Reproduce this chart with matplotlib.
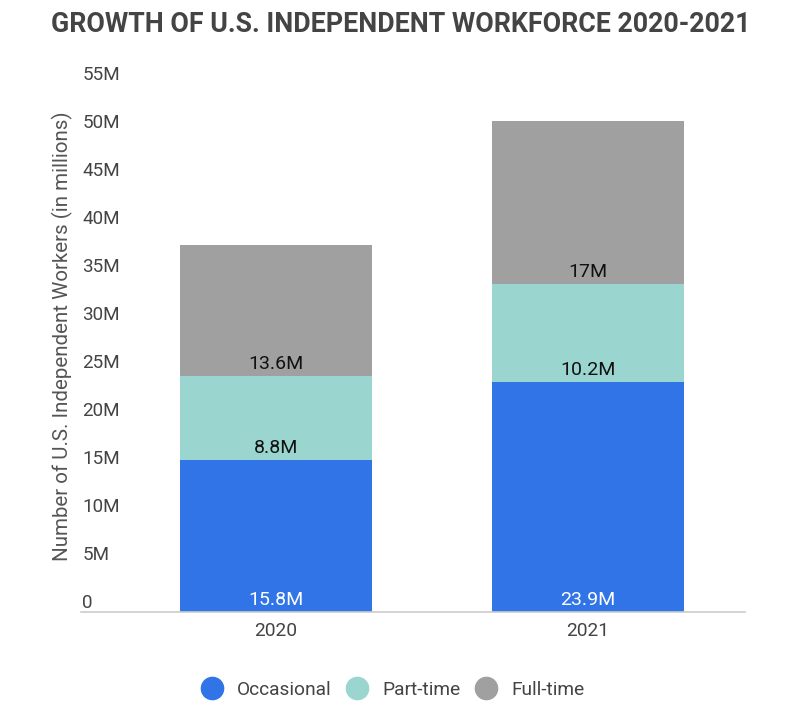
import matplotlib
matplotlib.use("Agg")
import matplotlib.pyplot as plt
from matplotlib.lines import Line2D
from matplotlib.transforms import ScaledTranslation
import numpy as np

plt.rcParams['font.family'] = ['Roboto', 'DejaVu Sans']

years = ["2020", "2021"]
series_names = ["Occasional", "Part-time", "Full-time"]
occasional = [15.8, 23.9]
part_time = [8.8, 10.2]
full_time = [13.6, 17.0]
value_labels = [["15.8M", "23.9M"], ["8.8M", "10.2M"], ["13.6M", "17M"]]
y_ticks = [0, 5, 10, 15, 20, 25, 30, 35, 40, 45, 50, 55]
y_tick_labels = ["0", "5M", "10M", "15M", "20M", "25M", "30M", "35M", "40M", "45M", "50M", "55M"]

colors = ["#3174E8", "#9AD5D0", "#A0A0A0"]
label_colors = ["white", "#111111", "#111111"]

W, H = 800, 717
fig = plt.figure(figsize=(W / 100, H / 100), dpi=100)
ax_left, ax_right, ax_bottom, ax_top = 81, 745, 612, 83.5
ax = fig.add_axes([ax_left / W, 1 - ax_bottom / H, (ax_right - ax_left) / W, (ax_bottom - ax_top) / H])

x = np.arange(len(years))
width = 0.615
series = [occasional, part_time, full_time]
bottom = np.zeros(len(years))
for i, vals in enumerate(series):
    vals = np.array(vals)
    ax.bar(x, vals, width, bottom=bottom, color=colors[i], label=series_names[i], zorder=2)
    for j in range(len(years)):
        ax.annotate(value_labels[i][j], (x[j], bottom[j]), xytext=(0, 8.6), textcoords="offset points",
                    ha="center", va="center", fontsize=14, color=label_colors[i], zorder=3)
    bottom = bottom + vals

ax.set_xlim(-0.625, 1.503)
ax.set_ylim(0, 55)
ax.set_yticks(y_ticks)
ax.set_yticklabels(y_tick_labels)
ax.set_xticks(x)
ax.set_xticklabels(years)

for s in ["top", "right", "left"]:
    ax.spines[s].set_visible(False)
ax.spines["bottom"].set_color("#cccccc")
ax.spines["bottom"].set_linewidth(1.2)

ax.tick_params(axis="y", length=0, pad=-1, labelsize=13.6, labelcolor="#444444")
ax.tick_params(axis="x", length=0, pad=7, labelsize=13.8, labelcolor="#444444")
off = ScaledTranslation(0, 0.11, fig.dpi_scale_trans)
for lab in ax.get_yticklabels():
    lab.set_horizontalalignment("left")
    lab.set_transform(lab.get_transform() + off)

fig.text(62 / W, 1 - 336 / H, "Number of U.S. Independent Workers (in millions)", rotation=90,
         ha="center", va="center", fontsize=14.8, color="#555555")

fig.text(401 / W, 1 - 24 / H, "GROWTH OF U.S. INDEPENDENT WORKFORCE 2020-2021", ha="center", va="center",
         fontsize=19.3, fontweight="bold", color="#444444")

handles = [Line2D([0], [0], marker="o", color="none", markerfacecolor=c, markeredgecolor=c, markersize=16)
           for c in colors]
fig.legend(handles, series_names, loc="center", bbox_to_anchor=(391 / W, 1 - 690 / H), ncol=3, frameon=False,
           fontsize=13.8, labelcolor="#444444", handletextpad=0.55, columnspacing=0.6, handlelength=1.5)

fig.savefig("out.png", dpi=100)
